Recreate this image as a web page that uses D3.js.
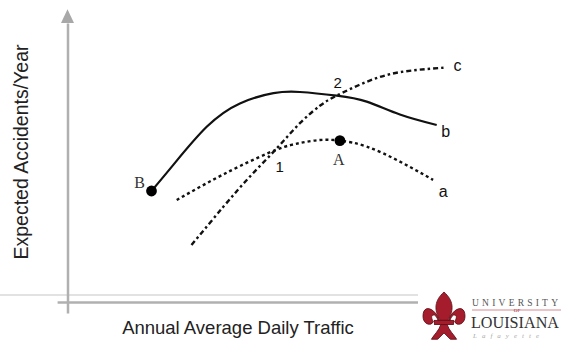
<!DOCTYPE html>
<html><head><meta charset="utf-8">
<script src="https://cdn.jsdelivr.net/npm/d3@7"></script>
<style>body{margin:0;background:#fff}svg{display:block}</style>
</head><body><svg id="c" width="561" height="341"></svg>
<script>
// Data (arbitrary units: x = traffic, y = expected accidents)
const curveB_x = [21, 26.5, 34.8, 43.1, 51.5, 58.1, 67.3, 74.8, 83.1, 92.3];
const curveB_y = [37, 45.8, 58.4, 66.2, 69.6, 70, 68.8, 66.8, 62.5, 59];
const curveA_x = [27.3, 34.8, 43.1, 52.3, 58.1, 63.1, 68.1, 74.8, 83.1, 91.4];
const curveA_y = [34, 39.6, 45.3, 50.8, 53, 54, 53.8, 51.8, 46.8, 40.7];
const curveC_x = [31, 39, 45.6, 52.3, 58.1, 63.1, 67.3, 74.8, 83.1, 94];
const curveC_y = [19, 31.8, 41.8, 51.2, 59.6, 65.4, 68.8, 73.4, 76.6, 78.1];
const pointNames = ["B", "A"];
const pointX = [21, 68.1];
const pointY = [37, 53.8];
const markerNames = ["1", "2"];
const markerX = [52.3, 67.3];
const markerY = [51.2, 68.8];
const curveNames = ["a", "b", "c"];
const xTitle = "Annual Average Daily Traffic";
const yTitle = "Expected Accidents/Year";

const svg = d3.select("#c");
const x = d3.scaleLinear().domain([0, 100]).range([67.5, 467.5]);
const y = d3.scaleLinear().domain([0, 100]).range([302, 2]);

// background slide line
svg.append("line").attr("x1", 0).attr("x2", 561).attr("y1", 295).attr("y2", 295)
  .attr("stroke", "#e2e2e2").attr("stroke-width", 2);

// axes
const axG = svg.append("g").attr("transform", `translate(0,${y(0)})`)
  .call(d3.axisBottom(d3.scaleLinear().domain([-2.6, 88]).range([x(-2.6), x(88)])).tickValues([]).tickSizeOuter(0));
axG.select(".domain").attr("stroke", "#b0b0b0").attr("stroke-width", 2.5);
const ayG = svg.append("g").attr("transform", `translate(${x(0)},0)`)
  .call(d3.axisLeft(d3.scaleLinear().domain([-3.7, 93]).range([y(-3.7), y(93)])).tickValues([]).tickSizeOuter(0));
ayG.select(".domain").attr("stroke", "#b0b0b0").attr("stroke-width", 2.5);
svg.append("path")
  .attr("d", `M${x(0)},${y(97.6)} L${x(0)-6.5},${y(93)} L${x(0)+6.5},${y(93)} Z`)
  .attr("fill", "#a8a8a8");

// axis titles
svg.append("text").attr("x", 238).attr("y", 334).attr("text-anchor", "middle")
  .attr("font-family", "Liberation Sans, Arial, sans-serif").attr("font-size", 18.5)
  .attr("fill", "#222").text(xTitle);
svg.append("text").attr("transform", "translate(28,152) rotate(-90)").attr("text-anchor", "middle")
  .attr("font-family", "Liberation Sans, Arial, sans-serif").attr("font-size", 19.5)
  .attr("fill", "#222").text(yTitle);

// curves
const line = d3.line().x(d => x(d[0])).y(d => y(d[1])).curve(d3.curveNatural);
const zip = (a, b) => a.map((v, i) => [v, b[i]]);
svg.append("path").datum(zip(curveA_x, curveA_y)).attr("d", line)
  .attr("fill", "none").attr("stroke", "#111").attr("stroke-width", 2.4).attr("stroke-dasharray", "3,3");
svg.append("path").datum(zip(curveC_x, curveC_y)).attr("d", line)
  .attr("fill", "none").attr("stroke", "#111").attr("stroke-width", 2.4).attr("stroke-dasharray", "5,3,2.5,3");
svg.append("path").datum(zip(curveB_x, curveB_y)).attr("d", line)
  .attr("fill", "none").attr("stroke", "#111").attr("stroke-width", 2.2);

// points
svg.selectAll(".pt").data(pointNames).enter().append("circle")
  .attr("cx", (d, i) => x(pointX[i])).attr("cy", (d, i) => y(pointY[i])).attr("r", 5.4).attr("fill", "#000");
const ptLabelOff = [[-12, -3], [-1, 24]];
svg.selectAll(".ptl").data(pointNames).enter().append("text")
  .attr("x", (d, i) => x(pointX[i]) + ptLabelOff[i][0]).attr("y", (d, i) => y(pointY[i]) + ptLabelOff[i][1])
  .attr("text-anchor", "middle").attr("font-family", "Liberation Serif, Times New Roman, serif")
  .attr("font-size", 16).attr("fill", "#333").text(d => d);

// intersection numbers
const mOff = [[3, 24], [1, -8]];
svg.selectAll(".ml").data(markerNames).enter().append("text")
  .attr("x", (d, i) => x(markerX[i]) + mOff[i][0]).attr("y", (d, i) => y(markerY[i]) + mOff[i][1])
  .attr("text-anchor", "middle").attr("font-family", "Liberation Sans, Arial, sans-serif")
  .attr("font-size", 15).attr("fill", "#111").text(d => d);

// curve end labels
const ends = [[curveA_x, curveA_y, 10, 17], [curveB_x, curveB_y, 9, 12], [curveC_x, curveC_y, 14, 3]];
svg.selectAll(".cl").data(curveNames).enter().append("text")
  .attr("x", (d, i) => x(ends[i][0][ends[i][0].length - 1]) + ends[i][2])
  .attr("y", (d, i) => y(ends[i][1][ends[i][1].length - 1]) + ends[i][3])
  .attr("text-anchor", "middle").attr("font-family", "Liberation Sans, Arial, sans-serif")
  .attr("font-size", 16).attr("fill", "#111").text(d => d);

// logo
const logo = svg.append("g");
logo.append("rect").attr("x", 418).attr("y", 288).attr("width", 143).attr("height", 53).attr("fill", "#fff");
const fl = logo.append("g").attr("transform", "translate(444,292) scale(1.05)");
const red = "#a51d2d";
fl.append("path").attr("d", "M0,0 C-9,8 -10,17 -3.5,27 L3.5,27 C10,17 9,8 0,0 Z").attr("fill", red).attr("stroke", "#5e0c15").attr("stroke-width", 0.8);
fl.append("path").attr("d", "M-4,28 C-8,15 -20,11 -20,23 C-20,31 -12,33 -10,28 C-12,26 -13,21 -9,22 C-7,23 -6,26 -5,29 Z").attr("fill", red).attr("stroke", "#5e0c15").attr("stroke-width", 0.8);
fl.append("path").attr("d", "M4,28 C8,15 20,11 20,23 C20,31 12,33 10,28 C12,26 13,21 9,22 C7,23 6,26 5,29 Z").attr("fill", red).attr("stroke", "#5e0c15").attr("stroke-width", 0.8);
fl.append("rect").attr("x", -9).attr("y", 27).attr("width", 18).attr("height", 4).attr("fill", red).attr("stroke", "#5e0c15").attr("stroke-width", 0.8);
fl.append("path").attr("d", "M-3,31 C-5,37 -9,40 -12,45 L-6,45 L0,39 L6,45 L12,45 C9,40 5,37 3,31 Z").attr("fill", red).attr("stroke", "#5e0c15").attr("stroke-width", 0.8);
logo.append("text").attr("x", 472).attr("y", 306).attr("font-family", "Liberation Serif, serif")
  .attr("font-size", 9.5).attr("textLength", 86).attr("lengthAdjust", "spacing").attr("fill", "#555").text("UNIVERSITY");
logo.append("line").attr("x1", 472).attr("x2", 561).attr("y1", 310).attr("y2", 310).attr("stroke", "#d88a92").attr("stroke-width", 1);
logo.append("text").attr("x", 517).attr("y", 311.5).attr("text-anchor", "middle").attr("font-family", "Liberation Serif, serif")
  .attr("font-size", 5).attr("fill", "#a51d2d").text("OF");
logo.append("text").attr("x", 471).attr("y", 328).attr("font-family", "Liberation Serif, serif")
  .attr("font-size", 16.5).attr("textLength", 88).attr("lengthAdjust", "spacingAndGlyphs").attr("fill", "#333").text("LOUISIANA");
logo.append("text").attr("x", 473).attr("y", 338).attr("font-family", "Liberation Serif, serif").attr("font-style", "italic")
  .attr("font-size", 7).attr("letter-spacing", 5).attr("fill", "#aaa").text("Lafayette");
</script></body></html>
